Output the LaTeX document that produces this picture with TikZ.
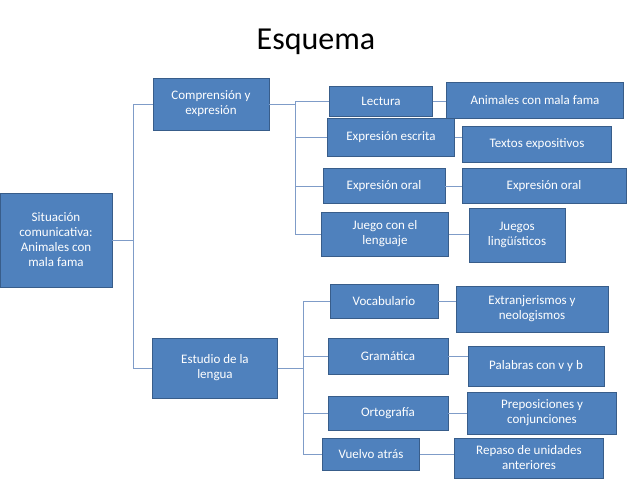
\documentclass[tikz,border=0pt]{standalone}
\usepackage{fontspec}
\setmainfont{Carlito}
\definecolor{boxblue}{HTML}{4F81BD}
\definecolor{boxline}{HTML}{385D8A}
\definecolor{linkline}{HTML}{7F9CC8}
\tikzset{
  box/.style={rectangle,fill=boxblue,draw=boxline,text=white,align=center,
    inner sep=1pt,font=\fontsize{13}{15}\selectfont},
  link/.style={draw=linkline,line width=0.8pt}
}
\begin{document}
\begin{tikzpicture}[x=1pt,y=-1pt]
		\useasboundingbox (0,0) rectangle (638,479);
		\node[font=\fontsize{32}{36}\selectfont] (title) at (316,42) {Esquema};
		% first column
		\node[box,minimum width=112,minimum height=94] (sit) at (56,240) {Situación\\comunicativa:\\Animales con\\mala fama};
		\node[box,minimum width=116,minimum height=52] (comp) at (211,104) {Comprensión y\\expresión};
		\node[box,minimum width=125,minimum height=60] (est) at (215,368) {Estudio de la\\lengua};
		% second column
		\node[box,minimum width=103,minimum height=30] (lect) at (381,101) {Lectura};
		\node[box,minimum width=127,minimum height=38] (escr) at (391,137) {Expresión escrita};
		\node[box,minimum width=122,minimum height=35] (oral) at (384,186) {Expresión oral};
		\node[box,minimum width=127,minimum height=44] (juego) at (385,234) {Juego con el\\lenguaje};
		\node[box,minimum width=108,minimum height=34] (voc) at (384,301) {Vocabulario};
		\node[box,minimum width=120,minimum height=36] (gram) at (388,356) {Gramática};
		\node[box,minimum width=120,minimum height=34] (orto) at (388,413) {Ortografía};
		\node[box,minimum width=97,minimum height=32] (vuel) at (371,454) {Vuelvo atrás};
		% third column
		\node[box,minimum width=177,minimum height=36] (anim) at (535,100) {Animales con mala fama};
		\node[box,minimum width=149,minimum height=36] (text) at (537,144) {Textos expositivos};
		\node[box,minimum width=164,minimum height=35] (oral2) at (544,186) {Expresión oral};
		\node[box,minimum width=96,minimum height=54] (juegos) at (517,235) {Juegos\\lingüísticos};
		\node[box,minimum width=152,minimum height=46] (extr) at (532,309) {Extranjerismos y\\neologismos};
		\node[box,minimum width=136,minimum height=40] (pal) at (536,366) {Palabras con v y b};
		\node[box,minimum width=149,minimum height=42] (prep) at (542,413) {Preposiciones y\\conjunciones};
		\node[box,minimum width=149,minimum height=40] (rep) at (529,458) {Repaso de unidades\\anteriores};
		% brackets
		\coordinate (b1) at (133,0);
		\coordinate (b2) at (295,0);
		\coordinate (b3) at (303,0);
		\draw[link] (sit.east) -- (sit.east -| b1);
		\draw[link] (comp.west) -| (b1 |- est.west) -- (est.west);
		\draw[link] (comp.east) -- (comp.east -| b2);
		\draw[link] (lect.west) -| (b2 |- juego.west) -- (juego.west);
		\draw[link] (b2 |- escr.west) -- (escr.west);
		\draw[link] (b2 |- oral.west) -- (oral.west);
		\draw[link] (est.east) -- (est.east -| b3);
		\draw[link] (voc.west) -| (b3 |- vuel.west) -- (vuel.west);
		\draw[link] (b3 |- gram.west) -- (gram.west);
		\draw[link] (b3 |- orto.west) -- (orto.west);
		% pairs
		\foreach \a/\b in {lect/anim,escr/text,oral/oral2,juego/juegos,voc/extr,gram/pal,orto/prep,vuel/rep}
			\draw[link] (\a.east) -- (\a.east -| \b.west);
\end{tikzpicture}
\end{document}
